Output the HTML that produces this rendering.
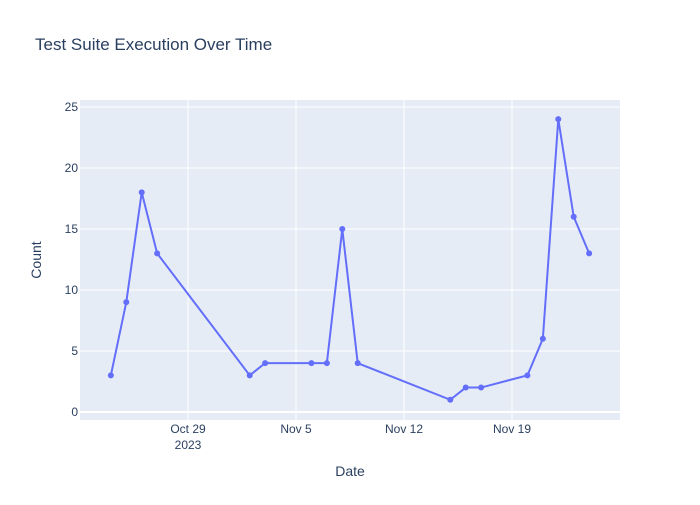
<!DOCTYPE html>
<html><head><meta charset="utf-8"><style>
body{margin:0;background:#fff;}
svg{font-family:"Liberation Sans",Arial,sans-serif;}
</style></head><body>
<svg id="chart" width="700" height="500">
<rect x="0" y="0" width="700" height="500" fill="#fff"/>
<text x="35" y="50" font-size="17" fill="#2a3f5f">Test Suite Execution Over Time</text>
<rect x="80" y="100" width="540" height="320" fill="#e5ecf6"/>
<g id="grid"></g>
<g id="series"></g>
<g id="ticks" font-size="12" fill="#2a3f5f"></g>
<text x="350" y="476" font-size="14" fill="#2a3f5f" text-anchor="middle">Date</text>
<text x="41" y="260" font-size="14" fill="#2a3f5f" text-anchor="middle" transform="rotate(-90 41 260)">Count</text>
</svg>
<script>
const dates = ["2023-10-24","2023-10-25","2023-10-26","2023-10-27","2023-11-02","2023-11-03","2023-11-06","2023-11-07","2023-11-08","2023-11-09","2023-11-15","2023-11-16","2023-11-17","2023-11-20","2023-11-21","2023-11-22","2023-11-23","2023-11-24"];
const counts = [3,9,18,13,3,4,4,4,15,4,1,2,2,3,6,24,16,13];
const yTicks = [0,5,10,15,20,25];
const xTickDates = ["2023-10-29","2023-11-05","2023-11-12","2023-11-19"];
const xTickLabels = ["Oct 29","Nov 5","Nov 12","Nov 19"];

const NS="http://www.w3.org/2000/svg";
const DAY=86400000;
const x0=Date.UTC(2023,9,22), x1=Date.UTC(2023,10,26);
const yMin=-0.66, yMax=25.57;
function t(d){const p=d.split("-");return Date.UTC(+p[0],+p[1]-1,+p[2]);}
function sx(d){return 80+(t(d)-x0)/(x1-x0)*540;}
function sy(v){return 420-(v-yMin)/(yMax-yMin)*320;}
function mk(tag,attrs,parent){const e=document.createElementNS(NS,tag);for(const k in attrs)e.setAttribute(k,attrs[k]);parent.appendChild(e);return e;}

const grid=document.getElementById("grid"), ticks=document.getElementById("ticks"), series=document.getElementById("series");
yTicks.forEach(v=>{
  const l=mk("line",{x1:80,x2:620,y1:sy(v),y2:sy(v),stroke:"#fff","stroke-width":v===0?2:1},grid);
  
  
  const tx=mk("text",{x:78,y:sy(v)+4,"text-anchor":"end"},ticks);
  tx.textContent=v;
  
  
});
xTickDates.forEach((d,i)=>{
  const l=mk("line",{x1:sx(d),x2:sx(d),y1:100,y2:420,stroke:"#fff","stroke-width":1},grid);
  
  
  const tx=mk("text",{x:sx(d),y:433,"text-anchor":"middle"},ticks);
  tx.textContent=xTickLabels[i];
  
  
  if(i===0){
    const ty=mk("text",{x:sx(d),y:449,"text-anchor":"middle"},ticks);
    ty.textContent="2023";
    
    
  }
});
const pts=dates.map((d,i)=>sx(d)+","+sy(counts[i])).join(" ");
const line=mk("polyline",{points:pts,fill:"none",stroke:"#636efa","stroke-width":2},series);


dates.forEach((d,i)=>{
  const c=mk("circle",{cx:sx(d),cy:sy(counts[i]),r:3,fill:"#636efa"},series);
  
  
});
</script>
</body></html>
